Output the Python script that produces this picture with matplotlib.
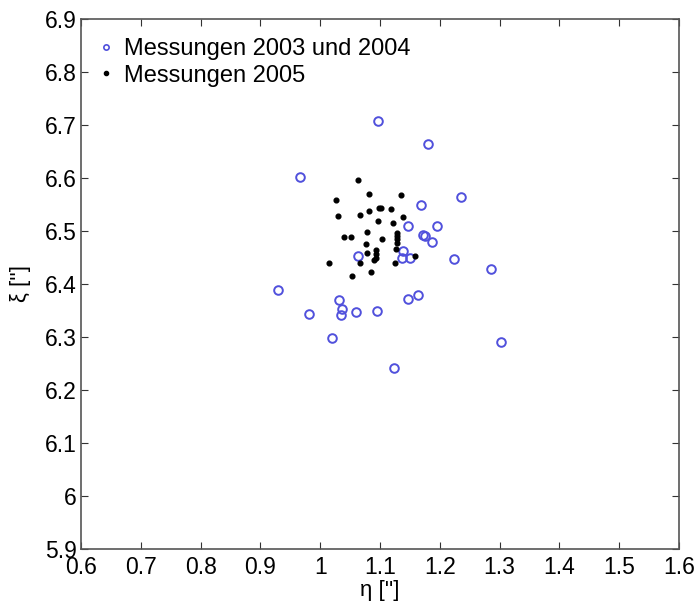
import matplotlib.pyplot as plt

plt.rcParams["font.family"] = ["Liberation Sans", "DejaVu Sans"]

# Messungen 2003 und 2004 (eta, xi in arcsec)
eta_0304 = [1.096, 1.181, 0.967, 1.235, 1.168, 1.146, 1.196, 1.172, 1.175,
            1.187, 1.223, 1.285, 1.138, 1.137, 1.150, 1.064, 0.930, 1.146,
            1.164, 1.031, 1.037, 1.035, 0.981, 1.060, 1.095, 1.019, 1.302,
            1.124]
xi_0304 = [6.708, 6.664, 6.602, 6.565, 6.550, 6.509, 6.509, 6.492, 6.491,
           6.479, 6.448, 6.428, 6.462, 6.449, 6.450, 6.453, 6.388, 6.372,
           6.379, 6.369, 6.352, 6.341, 6.343, 6.348, 6.349, 6.299, 6.290,
           6.242]

# Messungen 2005
eta_05 = [1.064, 1.081, 1.135, 1.027, 1.029, 1.067, 1.082, 1.098, 1.101,
          1.119, 1.139, 1.096, 1.122, 1.039, 1.052, 1.078, 1.103, 1.128,
          1.128, 1.128, 1.128, 1.077, 1.078, 1.094, 1.094, 1.094, 1.126,
          1.090, 1.066, 1.125, 1.159, 1.014, 1.085, 1.053]
xi_05 = [6.596, 6.570, 6.567, 6.559, 6.529, 6.530, 6.538, 6.543, 6.543,
         6.542, 6.526, 6.519, 6.515, 6.488, 6.488, 6.498, 6.484, 6.497,
         6.491, 6.485, 6.478, 6.476, 6.458, 6.465, 6.457, 6.450, 6.466,
         6.446, 6.440, 6.440, 6.453, 6.439, 6.423, 6.416]

x_ticks = [0.6, 0.7, 0.8, 0.9, 1.0, 1.1, 1.2, 1.3, 1.4, 1.5, 1.6]
x_labels = ["0.6", "0.7", "0.8", "0.9", "1", "1.1", "1.2", "1.3", "1.4",
            "1.5", "1.6"]
y_ticks = [5.9, 6.0, 6.1, 6.2, 6.3, 6.4, 6.5, 6.6, 6.7, 6.8, 6.9]
y_labels = ["5.9", "6", "6.1", "6.2", "6.3", "6.4", "6.5", "6.6", "6.7",
            "6.8", "6.9"]

fig = plt.figure(figsize=(6.99, 6.11), dpi=100)
ax = fig.add_axes([81 / 699, 1 - 549 / 611, 598 / 699, 530 / 611])

ax.plot(eta_0304, xi_0304, linestyle="none", marker="o", markersize=6.2,
        markerfacecolor="none", markeredgecolor="#5050dc",
        markeredgewidth=1.4, label="Messungen 2003 und 2004")
ax.plot(eta_05, xi_05, linestyle="none", marker="o", markersize=3.4,
        color="black", label="Messungen 2005")

ax.set_xlim(0.6, 1.6)
ax.set_ylim(5.9, 6.9)
ax.set_xticks(x_ticks)
ax.set_xticklabels(x_labels)
ax.set_yticks(y_ticks)
ax.set_yticklabels(y_labels)
ax.tick_params(direction="in", length=5, width=0.8, top=True, right=True,
               labelsize=16.5, color="#333333")
ax.tick_params(axis="x", pad=5)
ax.tick_params(axis="y", pad=3)
for sp in ax.spines.values():
    sp.set_color("#555555")
    sp.set_linewidth(1.2)

ax.set_xlabel("η ['']", fontsize=16, labelpad=1)
ax.set_ylabel("ξ ['']", fontsize=16, labelpad=10)

leg = ax.legend(loc="upper left", frameon=False, fontsize=17,
                handlelength=0.5, handletextpad=0.5, labelspacing=0.2,
                borderaxespad=0.3, borderpad=0.5)
# smaller symbols in the legend than in the plot
leg.legend_handles[0].set_markersize(3.8)
leg.legend_handles[0].set_markeredgewidth(1.2)
leg.legend_handles[1].set_markersize(3.0)

fig.savefig("out.png", dpi=100)
